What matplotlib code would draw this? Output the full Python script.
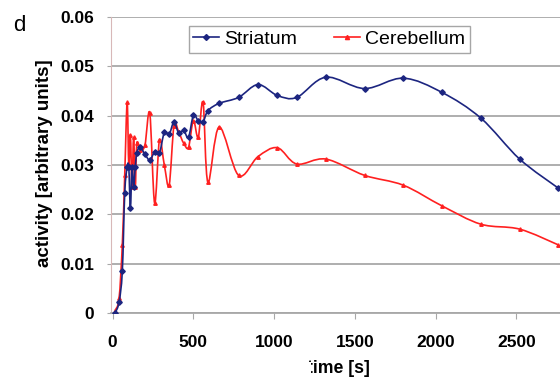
import numpy as np
import matplotlib
matplotlib.use("Agg")
import matplotlib.pyplot as plt
from matplotlib.path import Path
from matplotlib.patches import PathPatch, Rectangle
from matplotlib.lines import Line2D

plt.rcParams['font.family'] = ['Liberation Sans', 'DejaVu Sans']

time_s = [15, 40, 60, 75, 90, 100, 110, 120, 130, 140, 150, 170, 200, 230, 260,
          290, 320, 350, 380, 410, 440, 470, 500, 530, 560, 590, 660, 780, 900,
          1020, 1140, 1320, 1560, 1800, 2040, 2280, 2520, 2760]
striatum = [0.0, 0.0022, 0.0085, 0.0243, 0.0296, 0.0296, 0.0213, 0.0296, 0.0255,
            0.0296, 0.0325, 0.0336, 0.0322, 0.031, 0.0326, 0.0324, 0.0366, 0.0362,
            0.0387, 0.0364, 0.037, 0.0356, 0.0401, 0.039, 0.0387, 0.041, 0.0425,
            0.0437, 0.0463, 0.0441, 0.0437, 0.0478, 0.0455, 0.0476, 0.0447, 0.0395,
            0.0312, 0.0253]
cerebellum = [0.0005, 0.003, 0.0138, 0.028, 0.0427, 0.030, 0.036, 0.0255, 0.0356,
              0.0255, 0.0344, 0.033, 0.034, 0.0405, 0.0223, 0.035, 0.030, 0.0259,
              0.038, 0.0366, 0.0344, 0.0336, 0.039, 0.0356, 0.0427, 0.0265, 0.0377,
              0.0279, 0.0317, 0.0335, 0.0302, 0.0312, 0.0279, 0.0259, 0.0217, 0.018,
              0.017, 0.0138]
series_names = ["Striatum", "Cerebellum"]
x_ticks = [0, 500, 1000, 1500, 2000, 2500]
y_ticks = [0, 0.01, 0.02, 0.03, 0.04, 0.05, 0.06]
y_ticklabels = ["0", "0.01", "0.02", "0.03", "0.04", "0.05", "0.06"]

W, H = 560, 379
fig = plt.figure(figsize=(W / 100, H / 100), dpi=100)
ax = fig.add_axes([111 / W, (H - 313) / H, (W - 111) / W, (313 - 17) / H])


def smooth_path(x, y):
    p = np.column_stack([x, y]).astype(float)
    n = len(p)
    verts = [p[0]]
    codes = [Path.MOVETO]
    for i in range(n - 1):
        p0 = p[i - 1] if i > 0 else p[i]
        p1 = p[i]
        p2 = p[i + 1]
        p3 = p[i + 2] if i + 2 < n else p[i + 1]
        c1 = p1 + (p2 - p0) / 6.0
        c2 = p2 - (p3 - p1) / 6.0
        verts += [c1, c2, p2]
        codes += [Path.CURVE4] * 3
    return Path(verts, codes)


blue = "#1c2580"
red = "#ff2020"

ax.add_patch(PathPatch(smooth_path(time_s, cerebellum), transform=ax.transData,
                       fill=False, edgecolor=red, lw=1.2, zorder=3))
ax.plot(time_s, cerebellum, ls='none', marker='^', ms=2.5, color=red, zorder=4)
ax.add_patch(PathPatch(smooth_path(time_s, striatum), transform=ax.transData,
                       fill=False, edgecolor=blue, lw=1.2, zorder=5))
ax.plot(time_s, striatum, ls='none', marker='D', ms=2.8, color=blue, zorder=6)

ax.set_xlim(-10, 2770)
ax.set_ylim(0, 0.06)
ax.set_xticks(x_ticks)
ax.set_xticklabels([str(v) for v in x_ticks])
ax.set_yticks(y_ticks)
ax.set_yticklabels(y_ticklabels)
ax.grid(axis='y', color='#a8a8a8', lw=1.3)
ax.set_axisbelow(True)
for s in ['top', 'right']:
    ax.spines[s].set_visible(False)
ax.spines['left'].set_color('#d8b8b8')
ax.spines['bottom'].set_color('#a8a8a8')
ax.spines['bottom'].set_linewidth(1.3)
ax.tick_params(axis='x', length=4, color='#a8a8a8', pad=12, labelsize=12.5)
ax.tick_params(axis='y', length=3, color='#a8a8a8', pad=9, labelsize=12.5)
for lab in ax.get_xticklabels() + ax.get_yticklabels():
    lab.set_fontweight('bold')

handles = [Line2D([], [], color=blue, marker='D', ms=3, lw=1.2),
           Line2D([], [], color=red, marker='^', ms=3, lw=1.2)]
leg = ax.legend(handles, series_names, ncol=2, loc='center',
                bbox_to_anchor=(0.4865, 0.924), fontsize=14, frameon=True,
                fancybox=False, edgecolor='#909090', handlelength=1.3,
                handletextpad=0.3, columnspacing=1.9, borderpad=0.25,
                borderaxespad=0)
leg.get_frame().set_linewidth(1.0)

fig.text(13 / W, 1 - 31 / H, "d", fontsize=16, ha='left', va='baseline')
fig.text(45 / W, 1 - 163 / H, "activity [arbitrary units]", rotation=90,
         fontsize=13.5, fontweight='bold', ha='center', va='center')
fig.text(338 / W, 1 - 373 / H, "time [s]", fontsize=12.7, fontweight='bold',
         ha='center', va='baseline')
fig.patches.append(Rectangle((250 / W, 0), (311 - 250) / W, (H - 362) / H,
                             transform=fig.transFigure, facecolor='white',
                             edgecolor='none', zorder=10))

fig.savefig("out.png", dpi=100)
